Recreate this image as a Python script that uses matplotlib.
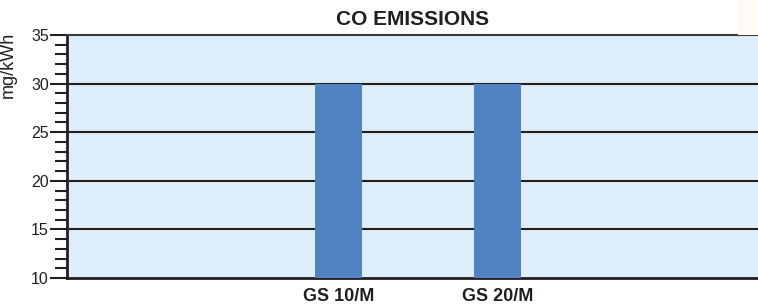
import matplotlib
matplotlib.use("Agg")
import matplotlib.pyplot as plt
from matplotlib.ticker import MultipleLocator
from matplotlib.patches import Rectangle

categories = ["GS 10/M", "GS 20/M"]
values = [30, 30]
yticks = [10, 15, 20, 25, 30, 35]

plt.rcParams['font.family'] = ['Liberation Sans', 'DejaVu Sans']

fig = plt.figure(figsize=(7.58, 3.07), dpi=100)
ax = fig.add_axes([67/758, 29/307, 691/758, 243/307])
ax.set_facecolor('#DDEEFA')

x = list(range(len(categories)))
ax.bar(x, values, width=0.296, color='#5182C4', zorder=3)

ax.set_ylim(10, 35)
ax.set_xlim(-1.708, 1 + 1.638)
ax.set_yticks(yticks)
ax.yaxis.set_minor_locator(MultipleLocator(1))
ax.set_xticks(x)
ax.set_xticklabels(categories, fontsize=13, fontweight='bold', color='#231f20')
ax.tick_params(axis='x', length=0, pad=7)
ax.tick_params(axis='y', which='major', length=12, width=1.5, color='#231f20',
               labelsize=11.5, labelcolor='#231f20', pad=1)
ax.tick_params(axis='y', which='minor', length=9, width=1.5, color='#231f20')

for yv in yticks[1:-1]:
    ax.axhline(yv, color='#231f20', lw=1.5, zorder=2)

ax.spines['right'].set_visible(False)
ax.spines['top'].set_color('#3a3a3a')
ax.spines['top'].set_linewidth(1.5)
ax.spines['left'].set_linewidth(2)
ax.spines['left'].set_color('#231f20')
ax.spines['bottom'].set_linewidth(2)
ax.spines['bottom'].set_color('#231f20')

ax.set_title('CO EMISSIONS', fontsize=15, fontweight='bold', color='#231f20', pad=7)
ax.set_ylabel('mg/kWh', fontsize=13, color='#231f20')
ax.yaxis.set_label_coords(-0.072, 0.877)

fig.patches.append(Rectangle((738/758, 272/307), 20/758, 35/307, transform=fig.transFigure,
                             facecolor='#FFFAF3', edgecolor='none', zorder=0))

fig.savefig('out.png', dpi=100)
